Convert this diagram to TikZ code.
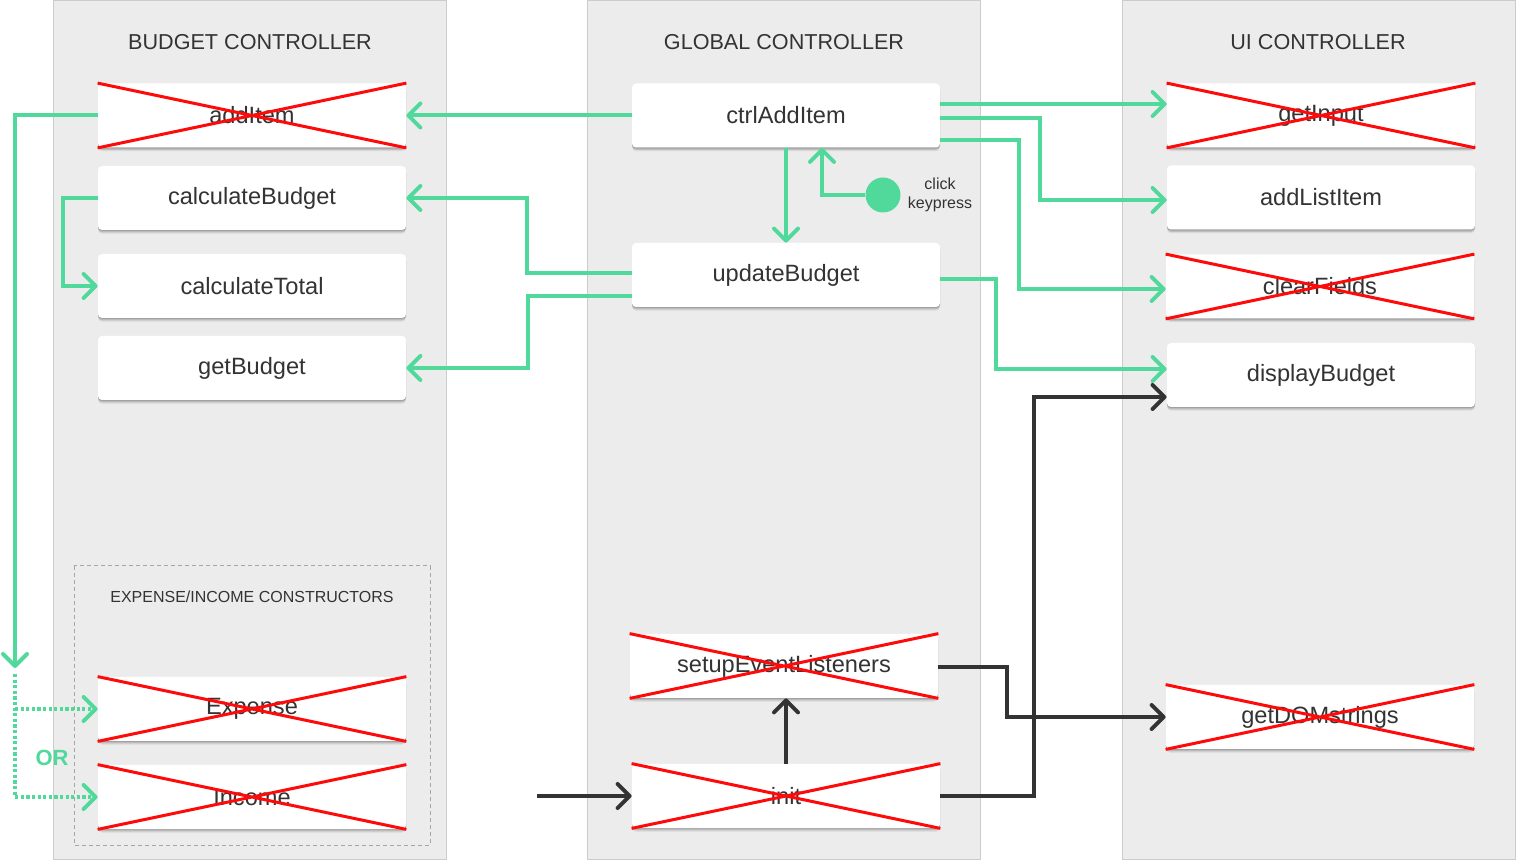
\documentclass[tikz,border=0pt]{standalone}
\usepackage{fontspec}
\setmainfont{Liberation Sans}
\usetikzlibrary{arrows.meta,shadows,calc}
\definecolor{gr}{RGB}{80,217,155}
\definecolor{dk}{RGB}{51,51,51}
\definecolor{pan}{RGB}{236,236,236}
\definecolor{panb}{RGB}{204,204,204}
\definecolor{xr}{RGB}{255,10,10}
\newcommand\xcross[1]{\draw[xline] (#1.north west) -- (#1.south east) (#1.south west) -- (#1.north east);}
\begin{document}
\begin{tikzpicture}[x=0.5pt,y=-0.5pt,
  panel/.style={fill=pan, draw=panb, line width=0.5pt},
  title/.style={text=dk, font=\fontsize{10.8}{13}\selectfont, inner sep=0pt},
  small/.style={text=dk, font=\fontsize{8}{9.5}\selectfont, inner sep=0pt, align=center},
  box/.style={fill=white, rounded corners=2pt, minimum width=154pt, minimum height=32pt, inner sep=0pt, text=dk, font=\fontsize{11.8}{14}\selectfont,
    drop shadow={shadow xshift=0pt, shadow yshift=-1.8pt, opacity=0.08, fill=black},
    drop shadow={shadow xshift=0pt, shadow yshift=-1.2pt, opacity=0.12, fill=black},
    drop shadow={shadow xshift=0pt, shadow yshift=-0.6pt, opacity=0.15, fill=black}},
  xline/.style={draw=xr, line width=1.5pt},
  tip/.style={-{Straight Barb[length=6pt,width=12pt,round]}},
  gline/.style={draw=gr, line width=2pt, tip},
  gdot/.style={draw=gr, line width=2pt, dash pattern=on 1.6pt off 1.2pt, tip},
  dline/.style={draw=dk, line width=2pt, tip}
]
\useasboundingbox (0,0) rectangle (1516,860);
% panels
\draw[panel] (53,0.5) rectangle (446,859.5);
\draw[panel] (587,0.5) rectangle (980,859.5);
\draw[panel] (1122,0.5) rectangle (1515.5,859.5);
\draw[draw=gray!70, line width=0.5pt, dash pattern=on 2pt off 1.5pt] (74,566) rectangle (430,845);
% titles
\node[title] (tB) at (250,42) {BUDGET CONTROLLER};
\node[title] (tG) at (784,42) {GLOBAL CONTROLLER};
\node[title] (tU) at (1318,42) {UI CONTROLLER};
\node[small] (tE) at (252,597) {EXPENSE/INCOME CONSTRUCTORS};
% budget nodes
\node[box] (addItem) at (252,115.5) {addItem};
\node[box] (calcB) at (252,198) {calculateBudget};
\node[box] (calcT) at (252,286) {calculateTotal};
\node[box] (getB) at (252,368) {getBudget};
\node[box] (exp) at (252,709) {Expense};
\node[box] (inc) at (252,797) {Income};
% global nodes
\node[box] (ctrl) at (786,115.5) {ctrlAddItem};
\node[box] (upd) at (786,275) {updateBudget};
\node[box] (setup) at (784,666) {setupEventListeners};
\node[box] (init) at (786,796) {init};
% ui nodes
\node[box] (getIn) at (1321,115.5) {getInput};
\node[box] (addL) at (1321,197.5) {addListItem};
\node[box] (clr) at (1320,286.5) {clearFields};
\node[box] (disp) at (1321,375) {displayBudget};
\node[box] (getD) at (1320,717) {getDOMstrings};
% crosses
\xcross{addItem}
\xcross{exp}
\xcross{inc}
\xcross{setup}
\xcross{init}
\xcross{getIn}
\xcross{clr}
\xcross{getD}
% click/keypress
\node[circle, fill=gr, minimum size=17.5pt, inner sep=0pt] (dot) at (883,195) {};
\node[small] (ck) at (940,195) {click\\keypress};
% green connectors
\draw[gline] (ctrl.west) -- (addItem.east);
\coordinate (dn) at (15,668);
\coordinate (d0) at (15,674);
\draw[gline] (addItem.west) -| (dn);
\draw[gdot] (d0) |- (inc.west);
\draw[gdot] (exp.west -| d0) -- (exp.west);
\node[text=gr, font=\bfseries\fontsize{11}{13}\selectfont, inner sep=0pt] (or) at (52,758) {OR};
\draw[gline] (calcB.west) -- (calcB.west -| 63,0) |- (calcT.west);
\draw[gline] (upd.west |- 0,273) -- (527,273) |- (calcB.east);
\draw[gline] (upd.west |- 0,296) -- (528,296) |- (getB.east);
\draw[gline] (ctrl.south) -- (upd.north);
\draw[gline] (dot.west) -| (ctrl.south -| 822,0);
\draw[gline] (ctrl.east |- 0,104) -- (getIn.west |- 0,104);
\draw[gline] (ctrl.east |- 0,118) -- (1040,118) |- (addL.west |- 0,200);
\draw[gline] (ctrl.east |- 0,140) -- (1019,140) |- (clr.west |- 0,289);
\draw[gline] (upd.east |- 0,279) -- (996,279) |- (disp.west |- 0,369);
% dark connectors
\coordinate (start) at (537,796);
\draw[dline] (start) -- (init.west);
\draw[dline] (init.north) -- (setup.south -| init.north);
\draw[dline] (init.east) -- (1034,796) |- (disp.west |- 0,397);
\draw[dline] (setup.east |- 0,667) -- (1007,667) |- (getD.west);
\end{tikzpicture}
\end{document}
